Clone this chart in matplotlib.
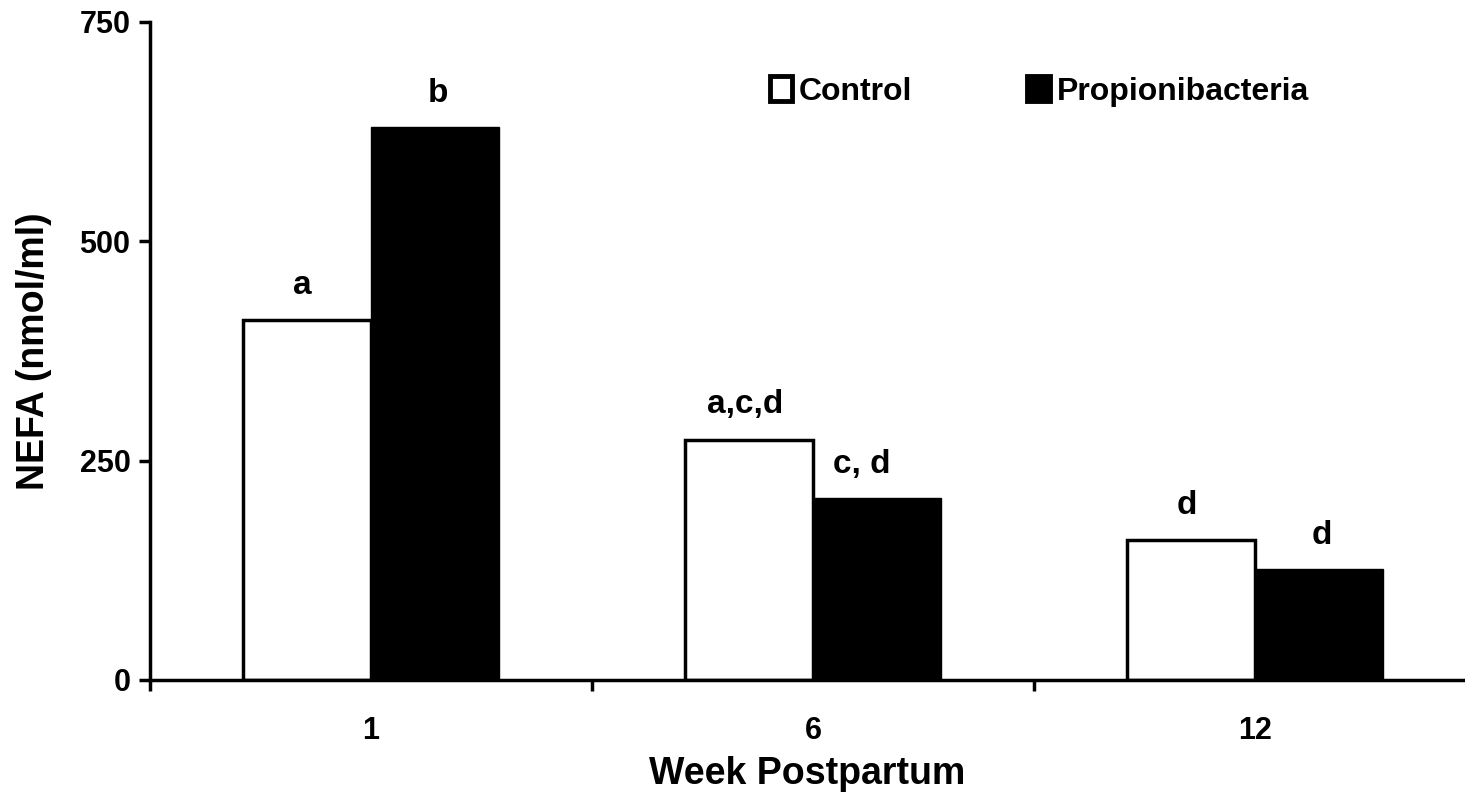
import numpy as np
import matplotlib
matplotlib.use('Agg')
import matplotlib.pyplot as plt

# 数据
weeks = ['1', '6', '12']
control = [410, 274, 159]
propioni = [630, 208, 127]
control_labels = ['a', 'a,c,d', 'd']
propioni_labels = ['b', 'c, d', 'd']

plt.rcParams['font.family'] = ['Liberation Sans', 'DejaVu Sans']
plt.rcParams['font.weight'] = 'bold'

fig = plt.figure(figsize=(14.65, 7.93), dpi=100)
ax = fig.add_axes([0.1024, 0.1425, 0.8976, 0.8298])

x = np.arange(len(weeks))
w = 0.29
b1 = ax.bar(x - w / 2, control, w, color='white', edgecolor='black', linewidth=2.5, label='Control')
b2 = ax.bar(x + w / 2, propioni, w, color='black', edgecolor='black', linewidth=1, label='Propionibacteria')

# 显著性字母
for xi, v, t in zip(x - w / 2, control, control_labels):
    ax.annotate(t, (xi, v), xytext=(-3, 25), textcoords='offset points',
                ha='center', va='center', fontsize=24, fontweight='bold')
for xi, v, t in zip(x + w / 2, propioni, propioni_labels):
    dx = -11 if t == 'c, d' else 2
    ax.annotate(t, (xi, v), xytext=(dx, 24), textcoords='offset points',
                ha='center', va='center', fontsize=24, fontweight='bold')

ax.set_ylim(0, 750)
ax.set_xlim(-0.5, 2.475)
ax.set_yticks([0, 250, 500, 750])
ax.set_xticks(x)
ax.set_xticklabels(weeks)
ax.set_xticks([-0.5, 0.5, 1.5], minor=True)
ax.tick_params(axis='x', which='major', length=0, pad=26, labelsize=22)
ax.tick_params(axis='x', which='minor', length=8, width=2.5, direction='out')
ax.tick_params(axis='y', length=8, width=2.5, labelsize=22, pad=6)
for lab in ax.get_xticklabels() + ax.get_yticklabels():
    lab.set_fontweight('bold')

ax.spines['top'].set_visible(False)
ax.spines['right'].set_visible(False)
ax.spines['left'].set_linewidth(2.5)
ax.spines['bottom'].set_linewidth(2.5)

ax.set_xlabel('Week Postpartum', fontsize=27, fontweight='bold', labelpad=7)
ax.set_ylabel('NEFA (nmol/ml)', fontsize=27, fontweight='bold', labelpad=20)

leg = ax.legend(loc='center left', bbox_to_anchor=(0.459, 0.894), ncol=2, frameon=False,
                borderpad=0, handlelength=0.7, handleheight=0.82, handletextpad=0.22,
                columnspacing=3.6, prop={'size': 23, 'weight': 'bold'})
for h in leg.legend_handles:
    h.set_linewidth(3.5)

fig.savefig('out.png', dpi=100, facecolor='white')
